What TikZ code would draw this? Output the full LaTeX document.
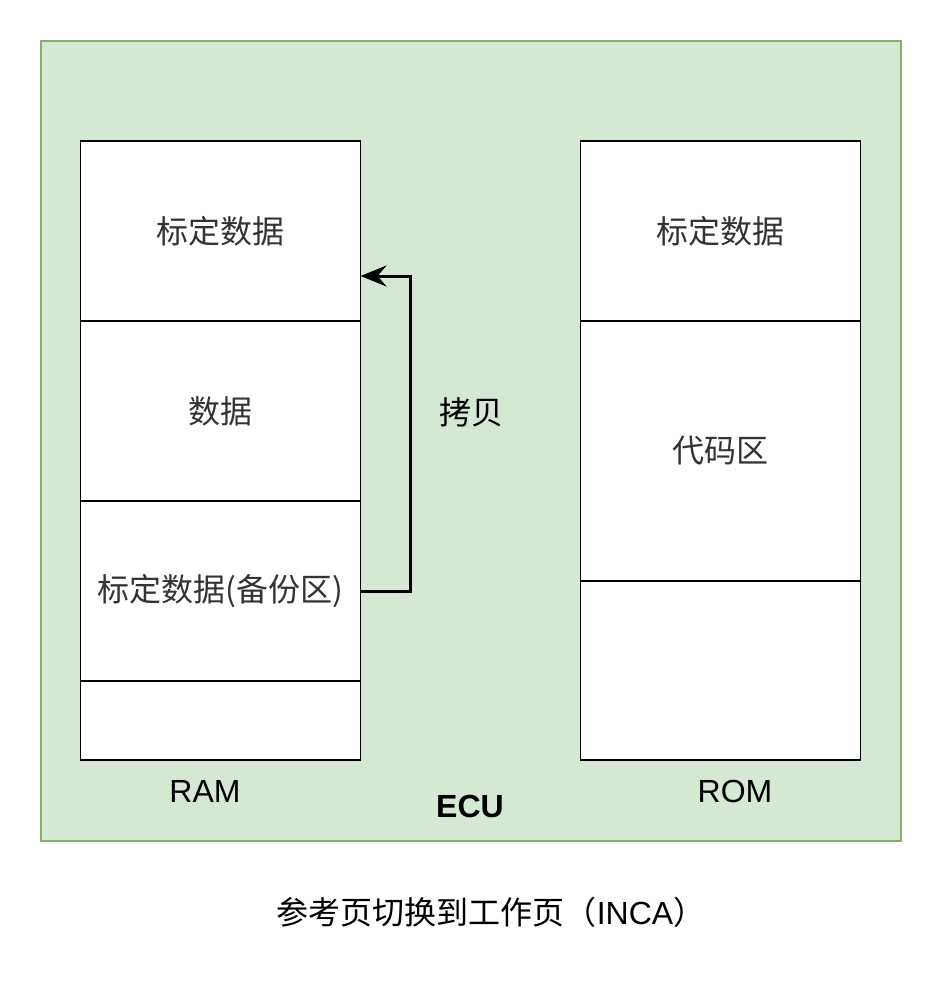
\documentclass[tikz,border=0pt]{standalone}
\usepackage{fontspec}
\setmainfont{Liberation Sans}
\newfontfamily\cjk{Noto Sans CJK SC}
\usetikzlibrary{calc,positioning,arrows.meta}
\definecolor{ecufill}{HTML}{D5E8D4}
\definecolor{eculine}{HTML}{82B366}
\definecolor{boxtext}{HTML}{333333}
\def\BoxWidth{280}
\def\RowHeight{180}
\def\TextSize{\fontsize{32}{38}\selectfont}

\begin{document}
\begin{tikzpicture}[x=1pt,y=-1pt]
  \tikzset{
    mem/.style={draw, fill=white, line width=1.5pt, inner sep=0pt, outer sep=0pt,
      minimum width=\BoxWidth pt, text=boxtext, font=\cjk\TextSize},
    lbl/.style={inner sep=0pt, font=\TextSize}
  }
  \useasboundingbox (0,0) rectangle (942,982);
  % ecu
  \node[draw=eculine, fill=ecufill, line width=2pt, minimum width=860pt,
    minimum height=800pt, inner sep=0pt] (ecu) at (471,441) {};
  % ram
  \node[mem, minimum height=\RowHeight pt] (ramcal) at (220.5,231) {标定数据};
  \node[mem, minimum height=\RowHeight pt, below=0pt of ramcal] (ramdata) {数据};
  \node[mem, minimum height=\RowHeight pt, below=0pt of ramdata] (ramback) {标定数据(备份区)};
  \node[mem, minimum height=79pt, below=0pt of ramback] (ramfree) {};
  % rom
  \node[mem, minimum height=\RowHeight pt] (romcal) at (720.5,231) {标定数据};
  \node[mem, minimum height=260pt, below=0pt of romcal] (romcode) {代码区};
  \node[mem, minimum height=179pt, below=0pt of romcode] (romfree) {};
  % copy
  \coordinate (cpyend) at ($(ramcal.north east)!0.75!(ramcal.south east)$);
  \draw[line width=3pt, -{Stealth[length=26pt, width=21pt, inset=9pt]}]
    (ramback.east) -- ++(50,0) |- (cpyend);
  \node[lbl, font=\cjk\TextSize] (cpy) at (471,412) {拷贝};
  % labels
  \node[lbl] (ramname) at (205,791) {RAM};
  \node[lbl] (romname) at (735,791) {ROM};
  \node[lbl, font=\bfseries\TextSize] (ecuname) at (470,806) {ECU};
  \node[lbl, font=\cjk\TextSize] (caption) at (491,912)
    {参考页切换到工作页（{\fontspec{Liberation Sans}INCA}）};
\end{tikzpicture}
\end{document}
